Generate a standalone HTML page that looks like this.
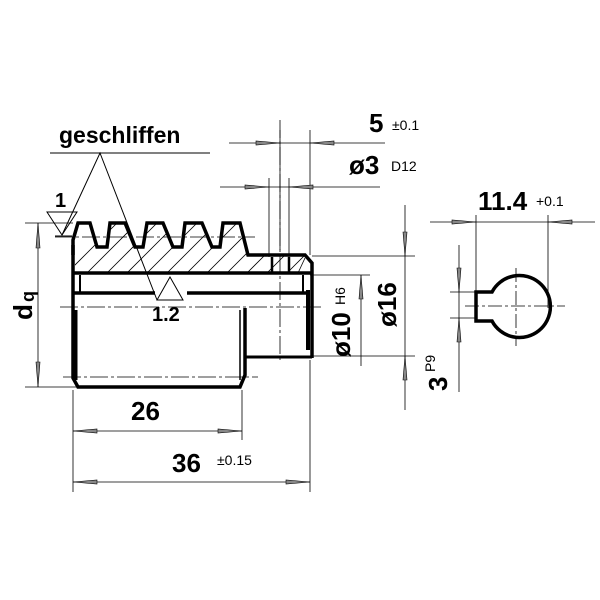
<!DOCTYPE html>
<html><head><meta charset="utf-8"><style>
html,body{margin:0;padding:0;background:#fff;}
svg{display:block;}
text{font-family:"Liberation Sans",sans-serif;fill:#000;}
.b{font-weight:bold;}
</style></head><body>
<svg width="600" height="600" viewBox="0 0 600 600" xmlns="http://www.w3.org/2000/svg">
<defs>
<clipPath id="hc"><path d="M75,245 L80,223 L90,223 L97,247 L107,247 L110,223 L125,223 L135,247 L143,247 L147,223 L163,223 L173,247 L182,247 L185,223 L202,223 L212,247 L220,247 L223,223 L240,223 L248,255 L305,255 L312,263 L312,273 L75,273 Z"/></clipPath>
</defs>
<g stroke="#000" fill="none">
<g clip-path="url(#hc)" stroke-width="0.8">
<path d="M60,300 L140,220 M80,300 L160,220 M100,300 L180,220 M120,300 L200,220 M140,300 L220,220 M160,300 L240,220 M180,300 L260,220 M200,300 L280,220 M220,300 L300,220 M240,300 L320,220 M260,300 L340,220 M40,300 L120,220"/>
</g>
<path d="M73,255 L73,240 L78,223 L90,223 L97,247 L107,247 L110,223 L125,223 L135,247 L143,247 L147,223 L163,223 L173,247 L182,247 L185,223 L202,223 L212,247 L220,247 L223,223 L240,223 L248,255 L305,255 L312,263 L312,358" stroke-width="3.5"/>
<path d="M73,245 L73,378 L78,387 L240,387 L245,375 L245,308" stroke-width="3.5"/>
<path d="M75,310 L75,380" stroke-width="5"/>
<path d="M308,290 L308,350" stroke-width="4"/>
<path d="M73,273 L312,273" stroke-width="3.5"/>
<path d="M74,293 L155,293 M187,293 L310,293" stroke-width="3.5"/>
<path d="M80,275 L80,293 M303,275 L303,293" stroke-width="2"/>
<path d="M245,308 L245,357 L312,357" stroke-width="3"/>
<path d="M240,310 L240,380" stroke-width="1.5"/>
<path d="M272,257 L272,273 M289,257 L289,273" stroke-width="2.5"/>
<path d="M305,258 L298,273" stroke-width="0.8"/>
<g stroke-width="0.8" stroke-dasharray="18,3,3,3">
<path d="M60,307 L322,307"/>
<path d="M63,377 L258,377"/>
<path d="M55,237 L255,237"/>
<path d="M280,120 L280,362"/>
</g>
<g stroke-width="1">
<path d="M50,153 L210,153"/>
<path d="M62,235 L100,153 L157,300"/>
<path d="M47,212 L77,212 L62,235 Z"/>
<path d="M157,300 L170,277 L183,300 Z"/>
<path d="M55,236 L72,236"/>
</g>
<g stroke-width="0.8">
<path d="M229,143 L385,143 M280,130 L280,250 M310,130 L310,255"/>
<path d="M220,187 L380,187 M269,178 L269,257 M289,178 L289,257"/>
<path d="M25,223 L73,223 M25,387 L78,387 M38,223 L38,387"/>
<path d="M73,390 L73,492 M242,390 L242,440 M310,360 L310,492 M73,431 L242,431 M73,482 L310,482"/>
<path d="M312,256 L415,256 M312,356 L415,356 M405,205 L405,410"/>
<path d="M310,275 L370,275 M361,275 L361,366"/>
<path d="M430,222 L595,222 M476,215 L476,300 M548,215 L548,308"/>
<path d="M450,292 L476,292 M450,318 L476,318 M459,245 L459,392"/>
<path d="M516,268 L516,346 M465,306 L565,306" stroke-dasharray="14,3,3,3"/>
</g>
<path d="M492,292 A31,31 0 1 1 492,321 L476,321 L476,292 Z" stroke-width="3.5"/>
</g>
<g fill="#888" stroke="#000" stroke-width="0.6">
<polygon points="280,143 256,141 256,145"/>
<polygon points="310,143 334,141 334,145"/>
<polygon points="269,187 245,185 245,189"/>
<polygon points="289,187 313,185 313,189"/>
<polygon points="38,223 36,248 40,248"/>
<polygon points="38,387 36,362 40,362"/>
<polygon points="73,431 97,429 97,433"/>
<polygon points="242,431 218,429 218,433"/>
<polygon points="73,482 97,480 97,484"/>
<polygon points="310,482 286,480 286,484"/>
<polygon points="405,256 403,232 407,232"/>
<polygon points="405,356 403,380 407,380"/>
<polygon points="361,275 359,299 363,299"/>
<polygon points="476,222 452,220 452,224"/>
<polygon points="548,222 572,220 572,224"/>
<polygon points="459,292 457,268 461,268"/>
<polygon points="459,318 457,342 461,342"/>
</g>
<text class="b" x="59" y="143" font-size="23">geschliffen</text>
<text class="b" x="55" y="207" font-size="20">1</text>
<text class="b" x="152" y="321" font-size="20">1.2</text>
<text class="b" x="369" y="132" font-size="26">5</text>
<text x="392" y="130" font-size="14">±0.1</text>
<text class="b" x="349" y="174" font-size="26">ø3</text>
<text x="391" y="171" font-size="14">D12</text>
<text class="b" x="131" y="420" font-size="26">26</text>
<text class="b" x="172" y="472" font-size="26">36</text>
<text x="217" y="465" font-size="14">±0.15</text>
<text class="b" x="478" y="210" font-size="26">11.4</text>
<text x="536" y="206" font-size="14">+0.1</text>
<text class="b" transform="translate(32,320) rotate(-90)" font-size="26">d</text>
<text class="b" transform="translate(34,302) rotate(-90)" font-size="18">q</text>
<text class="b" transform="translate(350,357) rotate(-90)" font-size="26">ø10</text>
<text transform="translate(345,305) rotate(-90)" font-size="14">H6</text>
<text class="b" transform="translate(396,327) rotate(-90)" font-size="26">ø16</text>
<text class="b" transform="translate(447,391) rotate(-90)" font-size="26">3</text>
<text transform="translate(435,372) rotate(-90)" font-size="14">P9</text>
</svg>
</body></html>
